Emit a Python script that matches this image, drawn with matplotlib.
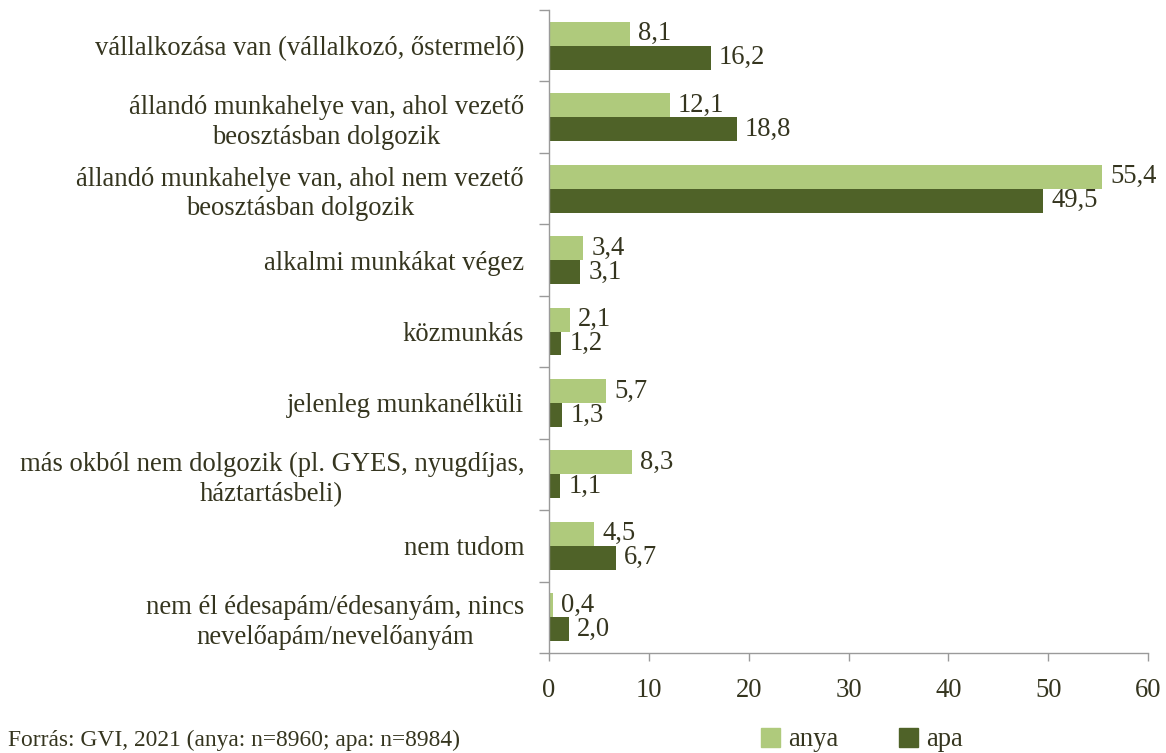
import matplotlib
matplotlib.use("Agg")
import matplotlib.pyplot as plt
import numpy as np
from matplotlib.patches import Patch

categories = [
    "vállalkozása van (vállalkozó, őstermelő)",
    "állandó munkahelye van, ahol vezető\nbeosztásban dolgozik",
    "állandó munkahelye van, ahol nem vezető\nbeosztásban dolgozik",
    "alkalmi munkákat végez",
    "közmunkás",
    "jelenleg munkanélküli",
    "más okból nem dolgozik (pl. GYES, nyugdíjas,\nháztartásbeli)",
    "nem tudom",
    "nem él édesapám/édesanyám, nincs\nnevelőapám/nevelőanyám",
]
anya = [8.1, 12.1, 55.4, 3.4, 2.1, 5.7, 8.3, 4.5, 0.4]
apa = [16.2, 18.8, 49.5, 3.1, 1.2, 1.3, 1.1, 6.7, 2.0]
xticks = [0, 10, 20, 30, 40, 50, 60]
series_names = ["anya", "apa"]
source = "Forrás: GVI, 2021 (anya: n=8960; apa: n=8984)"

c_anya = "#AFCA7C"
c_apa = "#4F6228"
txt = "#35351f"
axc = "#9a9a9a"

plt.rcParams["font.family"] = ["Liberation Serif", "DejaVu Serif"]
fs = 19.2

fig = plt.figure(figsize=(11.66, 7.53), dpi=100)
ax = fig.add_axes([549 / 1166, 1 - 653 / 753, (1148 - 549) / 1166, (653 - 10) / 753])

n = len(categories)
y = np.arange(n)
h = 0.335
b1 = ax.barh(y - h / 2, anya, height=h, color=c_anya, label=series_names[0])
b2 = ax.barh(y + h / 2, apa, height=h, color=c_apa, label=series_names[1])

for bars, vals in ((b1, anya), (b2, apa)):
    for bar, v in zip(bars, vals):
        ax.annotate(f"{v:.1f}".replace(".", ","),
                    (bar.get_width(), bar.get_y() + bar.get_height() / 2),
                    xytext=(6, 0), textcoords="offset points",
                    va="center", ha="left", fontsize=fs, color=txt)

ax.set_ylim(n - 0.5, -0.5)
ax.set_xlim(0, 60)
ax.set_xticks(xticks)
ax.set_xticklabels([str(t) for t in xticks], fontsize=fs, color=txt)
ax.tick_params(axis="x", length=6, width=1, color=axc, pad=12)

ax.set_yticks(np.arange(-0.5, n, 1.0))
ax.set_yticklabels([])
ax.set_yticks(y, minor=True)
ax.set_yticklabels(categories, minor=True, fontsize=fs, color=txt, linespacing=1.25)
ax.tick_params(axis="y", which="major", length=7, width=1, color=axc)
ax.tick_params(axis="y", which="minor", length=0, pad=18)
for lab in ax.get_yticklabels(minor=True):
    lab.set_horizontalalignment("right")
    lab.set_multialignment("center")

for s in ["top", "right"]:
    ax.spines[s].set_visible(False)
for s in ["left", "bottom"]:
    ax.spines[s].set_color(axc)
    ax.spines[s].set_linewidth(1)

fig.text(8 / 1166, 1 - 740 / 753, source, fontsize=fs - 2.3, color=txt, va="center", ha="left")

handles = [Patch(color=c_anya), Patch(color=c_apa)]
leg = fig.legend(handles, series_names, loc="center", bbox_to_anchor=(862 / 1166, 1 - 740 / 753),
                 ncol=2, frameon=False, fontsize=fs, handlelength=0.7, handleheight=0.7,
                 columnspacing=2.3, handletextpad=0.3, labelcolor=txt)

fig.savefig("out.png", dpi=100)
